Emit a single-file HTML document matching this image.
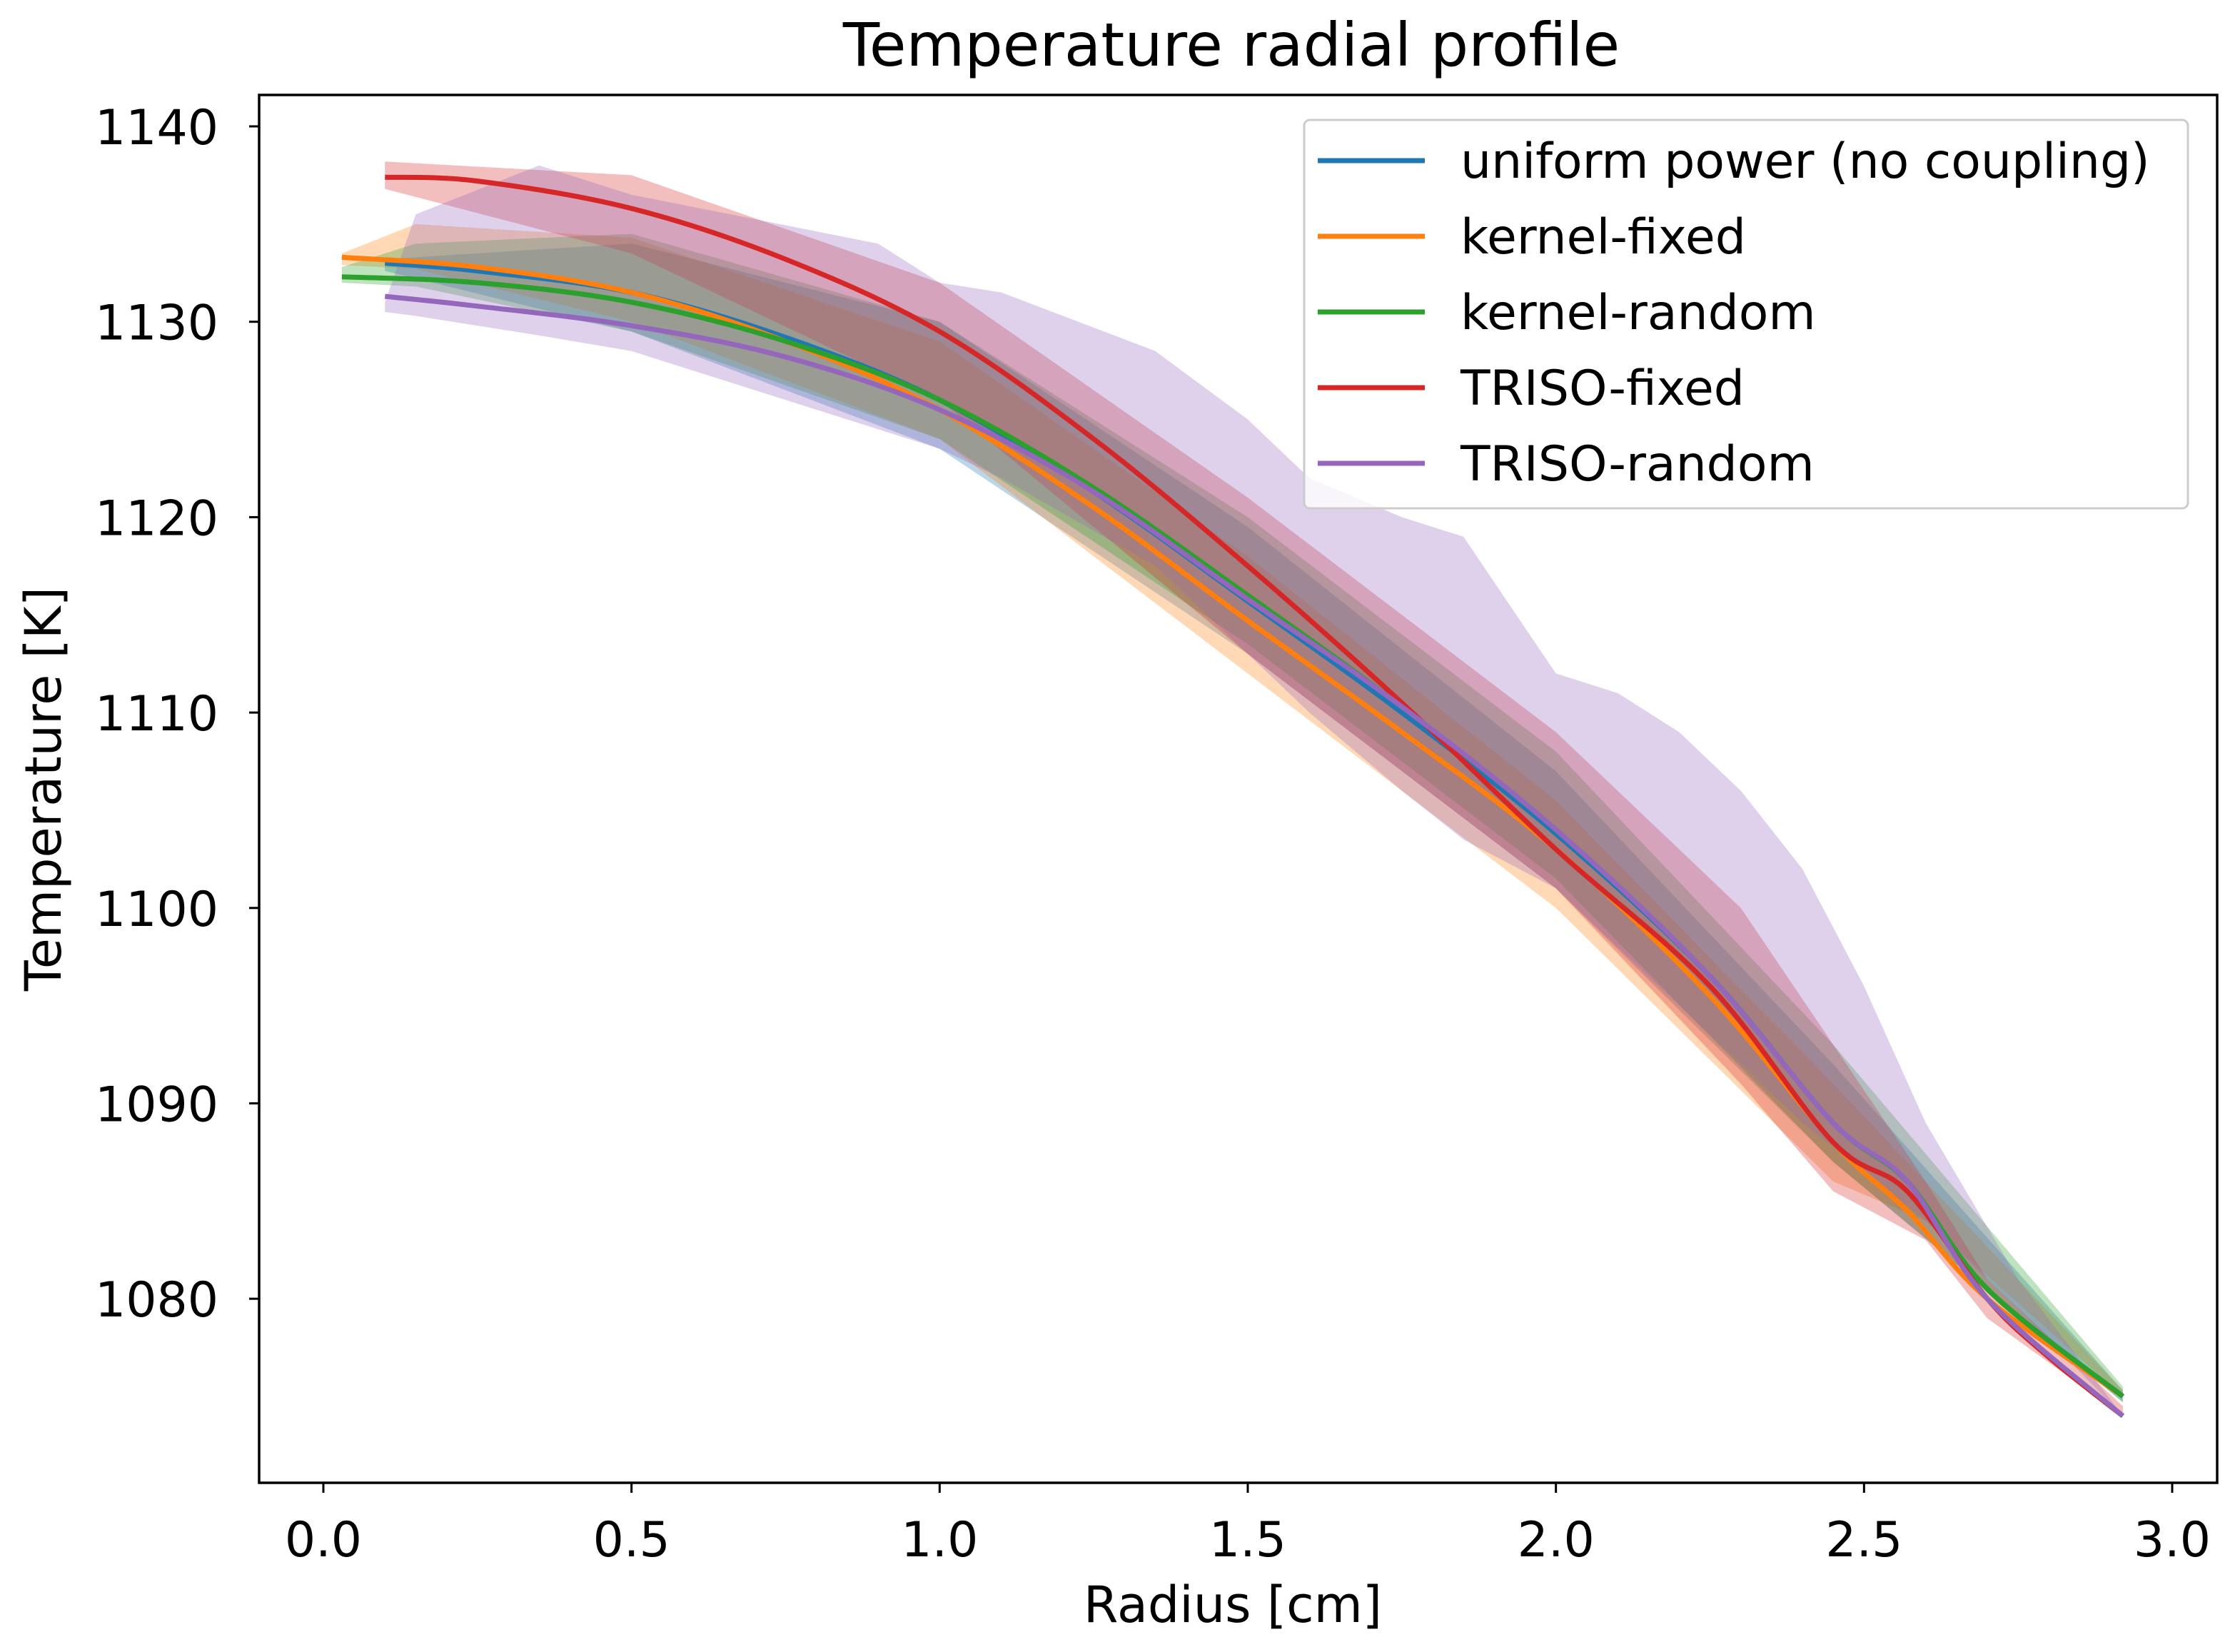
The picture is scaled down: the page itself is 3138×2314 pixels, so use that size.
<!DOCTYPE html>
<html><head><meta charset="utf-8"><style>
html,body{margin:0;padding:0;background:#fff;}
svg text{font-family:"DejaVu Sans","Liberation Sans",sans-serif;fill:#000;}
</style></head><body>
<svg id="chart" width="3138" height="2309" viewBox="0 0 3138 2309" xmlns="http://www.w3.org/2000/svg">
<rect width="3138" height="2309" fill="#fff"/>
<text x="1725" y="92" font-size="84" text-anchor="middle">Temperature radial profile</text>
<g id="bands"></g><g id="lines"></g><g id="axes"></g><g id="legend"></g>
</svg>
<script>
const xTicks=[0.0,0.5,1.0,1.5,2.0,2.5,3.0];
const yTicks=[1080,1090,1100,1110,1120,1130,1140];
const names=["uniform power (no coupling)","kernel-fixed","kernel-random","TRISO-fixed","TRISO-random"];
const colors=["#1f77b4","#ff7f0e","#2ca02c","#d62728","#9467bd"];
// mean lines
const blueX=[0.1,0.25,0.5,0.75,1.0,1.25,1.5,1.75,2.0,2.25,2.45,2.57,2.7,2.92];
const blueY=[1133,1132.6,1131.5,1129.2,1126,1121.3,1115.7,1110,1103.8,1096.5,1089,1086,1080.5,1075];
const orangeX=[0.03,0.25,0.5,0.75,1.0,1.25,1.5,1.75,2.0,2.25,2.45,2.57,2.7,2.92];
const orangeY=[1133.3,1132.8,1131.5,1129,1125.5,1120.5,1114.7,1109,1103,1095.5,1088,1084.5,1080,1075];
const greenX=[0.03,0.25,0.5,0.75,1.0,1.25,1.5,1.75,2.0,2.25,2.45,2.57,2.7,2.92];
const greenY=[1132.3,1132,1131,1129,1126,1121.5,1116,1110.3,1104,1096.5,1089,1086,1080.5,1075];
const redX=[0.1,0.25,0.5,0.75,1.0,1.25,1.5,1.75,2.0,2.25,2.45,2.57,2.7,2.8,2.92];
const redY=[1137.4,1137.2,1135.8,1133.2,1129.5,1124,1117.5,1110.5,1103,1096,1088,1085.5,1080,1077,1074];
const purpleX=[0.1,0.25,0.5,0.75,1.0,1.25,1.5,1.75,2.0,2.25,2.45,2.57,2.7,2.92];
const purpleY=[1131.3,1130.8,1129.8,1128.2,1125.5,1121.3,1115.8,1110.3,1104,1096.5,1089,1086,1080,1074];
// bands
const blueBandX=[0.1,0.5,1.0,1.5,2.0,2.45,2.92];
const blueHi=[1133.2,1134,1130,1119.5,1107,1092,1075.3];
const blueLo=[1132.6,1129.5,1123.5,1113,1101,1087,1074.7];
const orangeBandX=[0.03,0.15,0.5,1.0,1.5,2.0,2.45,2.6,2.92];
const orangeHi=[1133.5,1135,1134.3,1129,1118,1105.5,1091,1086,1075.3];
const orangeLo=[1132.9,1132.7,1130,1124,1112,1100,1086,1084,1075];
const greenBandX=[0.03,0.15,0.5,1.0,1.5,2.0,2.45,2.92];
const greenHi=[1132.8,1134,1134.5,1130,1120,1108,1093,1075.5];
const greenLo=[1132,1131.8,1129.5,1124,1113.5,1101.5,1087,1074.7];
const redBandX=[0.1,0.5,1.0,1.5,2.0,2.3,2.45,2.6,2.7,2.92];
const redHi=[1138.2,1137.5,1132,1121,1109,1100,1093,1086,1081,1074.5];
const redLo=[1136.8,1133.5,1126,1113,1101,1091,1085.5,1083,1079,1074];
const purpleBandX=[0.1,0.15,0.35,0.5,0.9,1.0,1.1,1.35,1.5,1.6,1.75,1.85,2.0,2.1,2.2,2.3,2.4,2.5,2.6,2.75,2.92];
const purpleHi=[1131,1135.5,1138,1136.5,1134,1132,1131.5,1128.5,1125,1122,1120,1119,1112,1111,1109,1106,1102,1096,1089,1081,1074];
const purpleLo=[1130.5,1130.3,1129.3,1128.5,1124.5,1123.5,1122,1117.5,1113,1110,1106,1103.5,1101,1098,1095,1092,1089,1086.5,1084,1079.5,1074];

const L=363,R=3106,T=133,B=2077;
const X0=453,X1=3043,Y1140=177,PPK=27.37;
function sx(v){return X0+(v-0)*(X1-X0)/3;}
function sy(v){return Y1140+(1140-v)*PPK;}
const NS="http://www.w3.org/2000/svg";
function mk(tag,attrs,parent){const e=document.createElementNS(NS,tag);for(const k in attrs)e.setAttribute(k,attrs[k]);parent.appendChild(e);return e;}
function smooth(xs,ys){
  const p=xs.map((x,i)=>[sx(x),sy(ys[i])]);
  let d="M"+p[0][0].toFixed(1)+","+p[0][1].toFixed(1);
  for(let i=0;i<p.length-1;i++){
    const p0=p[i-1]||p[i],p1=p[i],p2=p[i+1],p3=p[i+2]||p2;
    const c1=[p1[0]+(p2[0]-p0[0])/6,p1[1]+(p2[1]-p0[1])/6];
    const c2=[p2[0]-(p3[0]-p1[0])/6,p2[1]-(p3[1]-p1[1])/6];
    d+="C"+c1[0].toFixed(1)+","+c1[1].toFixed(1)+" "+c2[0].toFixed(1)+","+c2[1].toFixed(1)+" "+p2[0].toFixed(1)+","+p2[1].toFixed(1);
  }
  return d;
}
function poly(xs,ys){return xs.map((x,i)=>(i?"L":"M")+sx(x).toFixed(1)+","+sy(ys[i]).toFixed(1)).join("");}
const bands=[[blueBandX,blueHi,blueLo],[orangeBandX,orangeHi,orangeLo],[greenBandX,greenHi,greenLo],[redBandX,redHi,redLo],[purpleBandX,purpleHi,purpleLo]];
const lines=[[blueX,blueY],[orangeX,orangeY],[greenX,greenY],[redX,redY],[purpleX,purpleY]];
const bg=document.getElementById("bands"),lg=document.getElementById("lines"),ag=document.getElementById("axes"),leg=document.getElementById("legend");
const bandNames=["band-uniform-power","band-kernel-fixed","band-kernel-random","band-triso-fixed","band-triso-random"];
const lineNames=["line-uniform-power","line-kernel-fixed","line-kernel-random","line-triso-fixed","line-triso-random"];
bands.forEach((b,i)=>{
  const xs=b[0],hi=b[1],lo=b[2];
  let d=poly(xs,hi);
  for(let j=xs.length-1;j>=0;j--)d+="L"+sx(xs[j]).toFixed(1)+","+sy(lo[j]).toFixed(1);
  d+="Z";
  const e=mk("path",{d:d,fill:colors[i],"fill-opacity":0.3,stroke:"none"},bg);
  
  
});
lines.forEach((l,i)=>{
  const e=mk("path",{d:smooth(l[0],l[1]),fill:"none",stroke:colors[i],"stroke-width":7,"stroke-linejoin":"round"},lg);
  
  
});
const fr=mk("rect",{x:L,y:T,width:R-L,height:B-T,fill:"none",stroke:"#000","stroke-width":3.5},ag);


xTicks.forEach(v=>{
  const x=sx(v);
  const t=mk("line",{x1:x,y1:B,x2:x,y2:B+14,stroke:"#000","stroke-width":3},ag);
  
  
  const tx=mk("text",{x:x,y:2180,"font-size":68,"text-anchor":"middle"},ag);
  tx.textContent=v.toFixed(1);
  
  
});
yTicks.forEach(v=>{
  const y=sy(v);
  const t=mk("line",{x1:L-14,y1:y,x2:L,y2:y,stroke:"#000","stroke-width":3},ag);
  
  
  const tx=mk("text",{x:306,y:y+25,"font-size":68,"text-anchor":"end"},ag);
  tx.textContent=String(v);
  
  
});
const xl=mk("text",{x:1727,y:2272,"font-size":70,"text-anchor":"middle"},ag);
xl.textContent="Radius [cm]";


const yl=mk("text",{x:0,y:0,"font-size":70,"text-anchor":"middle",transform:"translate(85,1105) rotate(-90)"},ag);
yl.textContent="Temperature [K]";


const lb=mk("rect",{x:1827,y:168,width:1238,height:544,rx:8,fill:"#fff","fill-opacity":0.8,stroke:"#ccc","stroke-width":3},leg);


const legNames=["legend-uniform-power","legend-kernel-fixed","legend-kernel-random","legend-triso-fixed","legend-triso-random"];
names.forEach((n,i)=>{
  const y=225+i*106;
  const g=mk("g",{},leg);
  
  
  mk("line",{x1:1846,y1:y,x2:1996,y2:y,stroke:colors[i],"stroke-width":7},g);
  const t=mk("text",{x:2046,y:y+24,"font-size":68},g);
  t.textContent=n;
});
</script>
</body></html>
